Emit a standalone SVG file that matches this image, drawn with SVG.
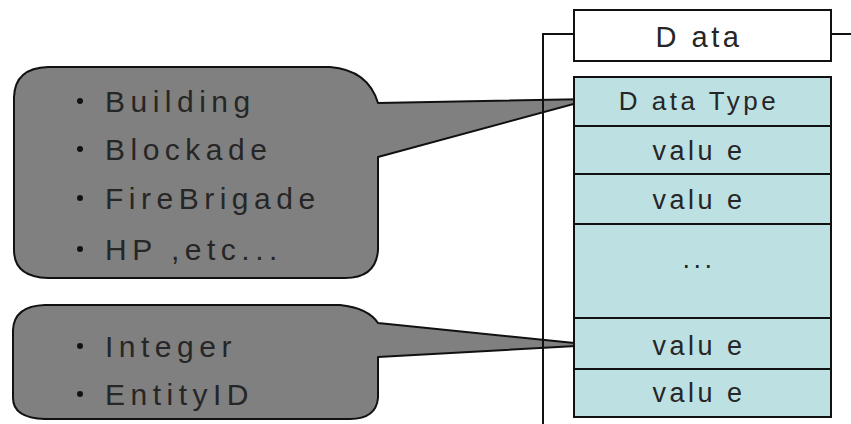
<svg xmlns="http://www.w3.org/2000/svg" width="851" height="424" viewBox="0 0 851 424">
<style>
.t{font-family:"Liberation Sans",Arial,sans-serif;fill:#262626;}
.lst{font-size:30px;letter-spacing:5.5px;}
.cell{fill:#bde0e3;stroke:#111;stroke-width:2;}
.call{fill:#808080;stroke:#111;stroke-width:2;stroke-linejoin:round;}
.ln{stroke:#111;stroke-width:2;fill:none;}
.ct{font-size:27px;letter-spacing:3.5px;text-anchor:middle;}
.b{fill:#111;}
</style>
<g id="callout-entities">
<path class="call" d="M48,67 L330,67 Q368,70 378,103 L592,99 L378,157 L378,250 Q376,278 345,278 L48,278 Q14,277 14,250 L14,97 Q15,68 48,67 Z"/>
<circle class="b" cx="80" cy="101" r="3"/>
<text class="t lst" x="105" y="112">Building</text>
<circle class="b" cx="80" cy="149" r="3"/>
<text class="t lst" x="105" y="160">Blockade</text>
<circle class="b" cx="80" cy="198" r="3"/>
<text class="t lst" x="105" y="209">FireBrigade</text>
<circle class="b" cx="80" cy="249" r="3"/>
<text class="t lst" x="105" y="260">HP ,etc...</text>
</g>
<g id="callout-types">
<path class="call" d="M45,305 L340,305 Q368,308 378,323 L594,345 L378,357 L378,398 Q376,419 350,419 L45,419 Q13,418 13,398 L13,330 Q14,306 45,305 Z"/>
<circle class="b" cx="80" cy="346" r="3"/>
<text class="t lst" x="105" y="357">Integer</text>
<circle class="b" cx="80" cy="394" r="3"/>
<text class="t lst" x="105" y="405">EntityID</text>
</g>
<g id="connectors">
<path class="ln" d="M851,34 L831,34 M574,34 L543,34 L543,424"/>
</g>
<g id="data-header">
<rect x="574" y="10" width="257" height="51" fill="#fff" stroke="#111" stroke-width="2"/>
<text class="t ct" x="699" y="47" style="font-size:29px">D ata</text>
</g>
<g id="data-table">
<rect class="cell" x="574" y="77" width="257" height="49"/>
<text class="t ct" x="699" y="110" style="font-size:26px">D ata Type</text>
<rect class="cell" x="574" y="126" width="257" height="48"/>
<text class="t ct" x="699" y="160">valu e</text>
<rect class="cell" x="574" y="174" width="257" height="50"/>
<text class="t ct" x="699" y="209">valu e</text>
<rect class="cell" x="574" y="224" width="257" height="94"/>
<text class="t ct" x="699" y="268">...</text>
<rect class="cell" x="574" y="318" width="257" height="51"/>
<text class="t ct" x="699" y="355">valu e</text>
<rect class="cell" x="574" y="369" width="257" height="48"/>
<text class="t ct" x="699" y="402">valu e</text>
</g>
</svg>
